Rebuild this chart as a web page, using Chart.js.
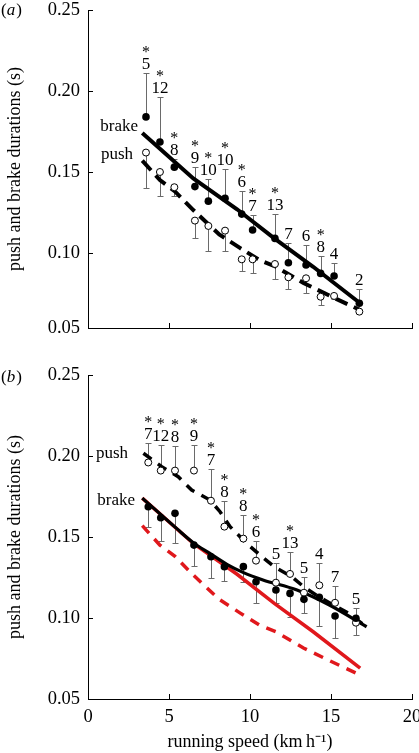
<!DOCTYPE html>
<html><head><meta charset="utf-8">
<script src="https://cdn.jsdelivr.net/npm/chart.js@4/dist/chart.umd.min.js"></script>
<style>
html,body{margin:0;padding:0;background:#fff;}
#wrap{position:relative;width:419px;height:753px;overflow:hidden;}
canvas{position:absolute;left:0;}
#ca{top:0;} #cb{top:360px;}
</style></head><body>
<div id="wrap"><canvas id="ca" width="419" height="345"></canvas><canvas id="cb" width="419" height="393"></canvas></div>
<script>
// ---------- data ----------
// panel (a) axis starts slightly above 0.05 (its bottom label reads 0.05)
const aYMin = 0.0537;
const aYTicks = [aYMin, 0.10, 0.15, 0.20, 0.25];
const bYTicks = [0.05, 0.10, 0.15, 0.20, 0.25];
const xTickValues = [0, 5, 10, 15, 20];

// panel (a)
const aSpeed    = [3.58,4.44,5.33,6.6,7.43,8.46,9.49,10.16,11.54,12.37,13.46,14.36,15.19,16.75];
const aBrake    = [0.184,0.1685,0.153,0.141,0.132,0.1338,0.124,0.1142,0.109,0.094,0.0926,0.0874,0.0858,0.069];
const aBrakeErr = [0.211,0.196,0.158,0.153,0.1457,0.152,0.138,0.1235,0.124,0.1062,0.105,0.098,0.094,0.0778];
const aPush     = [0.162,0.150,0.1406,0.120,0.1167,0.1138,0.0961,0.0961,0.0932,0.085,0.0844,0.073,0.0735,0.0638];
const aPushErr  = [0.140,0.135,0.135,0.109,0.101,0.101,0.089,0.0876,0.0838,0.078,0.075,0.068,0.0715,null];
const aN        = ['5','12','8','9','10','10','6','7','13','7','6','8','4','2'];
const aSig      = [1,1,1,1,1,1,1,1,1,0,0,1,0,0];

// fitted lines (also repeated in red in panel b)
const brakeFitX = [3.35,6.5,9.2,11.5,13.9,16.8];
const brakeFitY = [0.174,0.146,0.127,0.109,0.0915,0.069];
const pushFitX  = [3.35,4.44,5.37,6.5,8.1,9.4,10.6,11.6,13.3,15.15,16.8];
const pushFitY  = [0.157,0.145,0.138,0.1265,0.1115,0.103,0.0955,0.0915,0.0815,0.0725,0.0648];

// panel (b)
const bSpeed    = [3.72,4.49,5.37,6.54,7.59,8.42,9.59,10.37,11.6,12.47,13.33,14.28,15.25,16.54];
const bPush     = [0.196,0.191,0.191,0.191,0.1724,0.1564,0.149,0.1354,0.1218,0.1272,0.1156,0.1202,0.1094,0.0971];
const bPushErr  = [0.208,0.207,0.206,0.207,0.1918,0.1724,0.1636,0.1477,0.134,0.1406,0.1251,0.134,0.1198,0.106];
const bBrake    = [0.1687,0.1619,0.1646,0.145,0.1378,0.1317,0.1317,0.1224,0.1173,0.1152,0.1115,0.1128,0.1012,0.0998];
const bBrakeErr = [0.156,0.1477,0.146,0.132,0.125,0.123,0.1224,0.1095,0.109,0.1008,0.1033,0.0951,0.0875,0.0895];
const bN        = ['7','12','8','9','7','8','8','6','5','13','5','4','7','5'];
const bSig      = [1,1,1,1,1,1,1,1,0,1,0,0,0,0];

const bBrakeFitX = [3.35,5.5,6.5,7.5,8.6,9.6,10.8,12.9,14.9,17.2];
const bBrakeFitY = [0.174,0.155,0.1465,0.140,0.133,0.128,0.1235,0.1173,0.108,0.0946];
const bPushFitX  = [3.42,4.55,5.57,6.4,7.53,8.15,8.77,9.8,10.6,11.54,12.57,13.3,14.25,15.97,17.2];
const bPushFitY  = [0.2017,0.1934,0.1872,0.179,0.1728,0.1656,0.1564,0.146,0.139,0.1313,0.1256,0.1194,0.113,0.1035,0.0946];

// ---------- helpers ----------
const SERIF = "'Liberation Serif','Times New Roman',serif";
Chart.defaults.font.family = SERIF;
Chart.defaults.color = '#000';
const pts = (xs, ys) => xs.map((x, i) => ({x, y: ys[i]}));
const RED = '#e0181c';

const annot = {
  id: 'annot',
  beforeDatasetsDraw(chart, args, o) {
    const {ctx} = chart; const xs = chart.scales.x, ys = chart.scales.y;
    ctx.save(); ctx.strokeStyle = '#6a6a6a'; ctx.lineWidth = 1;
    (o.bars || []).forEach(b => {
      b.x.forEach((xv, i) => {
        const e = b.end[i]; if (e == null) return;
        const px = Math.round(xs.getPixelForValue(xv)) + 0.5;
        const p0 = ys.getPixelForValue(b.y[i]);
        const p1 = Math.round(ys.getPixelForValue(e)) + 0.5;
        ctx.beginPath(); ctx.moveTo(px, p0); ctx.lineTo(px, p1);
        ctx.moveTo(px - 3, p1); ctx.lineTo(px + 3, p1); ctx.stroke();
      });
    });
    ctx.restore();
  },
  afterDraw(chart, args, o) {
    const {ctx, chartArea} = chart; const xs = chart.scales.x, ys = chart.scales.y;
    ctx.save();
    // inward ticks
    ctx.strokeStyle = '#000'; ctx.lineWidth = 1;
    xs.ticks.forEach(t => {
      const px = Math.round(xs.getPixelForValue(t.value)) + 0.5;
      ctx.beginPath(); ctx.moveTo(px, chartArea.bottom); ctx.lineTo(px, chartArea.bottom - 5); ctx.stroke();
    });
    ys.ticks.forEach(t => {
      const py = Math.round(ys.getPixelForValue(t.value)) + 0.5;
      ctx.beginPath(); ctx.moveTo(chartArea.left, py); ctx.lineTo(chartArea.left + 5, py); ctx.stroke();
    });
    // sample sizes and significance stars
    const L = o.labels;
    if (L) {
      ctx.fillStyle = '#000'; ctx.textAlign = 'center'; ctx.textBaseline = 'alphabetic';
      L.x.forEach((xv, i) => {
        const px = xs.getPixelForValue(xv);
        const base = ys.getPixelForValue(L.end[i]) - 4;
        ctx.font = '17px ' + SERIF;
        ctx.fillText(L.n[i], px, base);
        if (L.sig[i]) { ctx.font = '16px ' + SERIF; ctx.fillText('*', px, base - 12); }
      });
    }
    // series names
    ctx.font = '17px ' + SERIF; ctx.textAlign = 'right'; ctx.textBaseline = 'middle';
    (o.texts || []).forEach(t => ctx.fillText(t.t, xs.getPixelForValue(t.x), ys.getPixelForValue(t.y)));
    // panel letter
    ctx.textAlign = 'left'; ctx.textBaseline = 'alphabetic';
    ctx.font = '17px ' + SERIF; ctx.fillText('(', 1, o.letterY);
    let w = ctx.measureText('(').width;
    ctx.font = 'italic 17px ' + SERIF; ctx.fillText(o.letter, 1 + w, o.letterY);
    w += ctx.measureText(o.letter).width;
    ctx.font = '17px ' + SERIF; ctx.fillText(')', 1 + w + 1, o.letterY);
    ctx.restore();
  }
};
Chart.register(annot);

function makeScales(xHeight, showX, yTicks) {
  return {
    x: {
      type: 'linear', min: 0, max: 20,
      afterBuildTicks: s => { s.ticks = xTickValues.map(v => ({value: v})); },
      afterFit: s => { s.height = xHeight; s.paddingLeft = 0; s.paddingRight = 0; },
      grid: {display: true, drawOnChartArea: false, drawTicks: false},
      border: {display: true, color: '#000', width: 1},
      ticks: {display: showX, padding: 9, font: {size: 18.5, lineHeight: 1}, maxRotation: 0},
      title: {display: showX, text: 'running speed (km\u2009h\u207B\u00B9)', font: {size: 18, lineHeight: 1.2}, padding: {top: 0, bottom: 0}}
    },
    y: {
      type: 'linear', min: yTicks[0], max: yTicks[yTicks.length - 1],
      afterBuildTicks: s => { s.ticks = yTicks.map(v => ({value: v})); },
      afterFit: s => { s.width = 88; s.paddingTop = 0; s.paddingBottom = 0; },
      grid: {display: true, drawOnChartArea: false, drawTicks: false},
      border: {display: true, color: '#000', width: 1},
      ticks: {padding: 8, font: {size: 18.5, lineHeight: 1}, callback: v => v.toFixed(2)},
      title: {display: true, text: 'push and brake durations (s)', font: {size: 18, lineHeight: 1.2}, padding: {top: 4, bottom: 0}}
    }
  };
}

const common = {
  responsive: false, animation: false, devicePixelRatio: 1,
  plugins: {legend: {display: false}, tooltip: {enabled: false}}
};

// panel (a)
new Chart(document.getElementById('ca'), {
  type: 'scatter',
  data: {datasets: [
    {type: 'scatter', data: pts(aSpeed, aBrake), pointRadius: 3.8, backgroundColor: '#000', borderColor: '#000', borderWidth: 0, order: 1},
    {type: 'scatter', data: pts(aSpeed, aPush), pointRadius: 3.5, backgroundColor: '#fff', borderColor: '#000', borderWidth: 1, order: 2},
    {type: 'line', data: pts(brakeFitX, brakeFitY), borderColor: '#000', borderWidth: 4, pointRadius: 0, fill: false, order: 3},
    {type: 'line', data: pts(pushFitX, pushFitY), borderColor: '#000', borderWidth: 4, borderDash: [13, 7], pointRadius: 0, fill: false, order: 4}
  ]},
  options: Object.assign({}, common, {
    layout: {padding: {top: 10, left: 0, right: 7, bottom: 0}},
    scales: makeScales(17, false, aYTicks),
    plugins: Object.assign({}, common.plugins, {annot: {
      bars: [{x: aSpeed, y: aBrake, end: aBrakeErr}, {x: aSpeed, y: aPush, end: aPushErr}],
      labels: {x: aSpeed, end: aBrakeErr, n: aN, sig: aSig},
      texts: [{t: 'brake', x: 3.09, y: 0.1778}, {t: 'push', x: 2.78, y: 0.1605}],
      letter: 'a', letterY: 15
    }})
  })
});

// panel (b)
new Chart(document.getElementById('cb'), {
  type: 'scatter',
  data: {datasets: [
    {type: 'scatter', data: pts(bSpeed, bBrake), pointRadius: 3.8, backgroundColor: '#000', borderColor: '#000', borderWidth: 0, order: 1},
    {type: 'scatter', data: pts(bSpeed, bPush), pointRadius: 3.5, backgroundColor: '#fff', borderColor: '#000', borderWidth: 1, order: 2},
    {type: 'line', data: pts(bBrakeFitX, bBrakeFitY), borderColor: '#000', borderWidth: 3.2, pointRadius: 0, fill: false, cubicInterpolationMode: 'monotone', order: 3},
    {type: 'line', data: pts(bPushFitX, bPushFitY), borderColor: '#000', borderWidth: 3.5, borderDash: [10, 8], pointRadius: 0, fill: false, order: 4},
    {type: 'line', data: pts(brakeFitX, brakeFitY), borderColor: RED, borderWidth: 3.5, pointRadius: 0, fill: false, order: 5},
    {type: 'line', data: pts(pushFitX, pushFitY), borderColor: RED, borderWidth: 3.5, borderDash: [10, 8], pointRadius: 0, fill: false, order: 6}
  ]},
  options: Object.assign({}, common, {
    layout: {padding: {top: 15, left: 0, right: 7, bottom: 0}},
    scales: makeScales(54, true, bYTicks),
    plugins: Object.assign({}, common.plugins, {annot: {
      bars: [{x: bSpeed, y: bPush, end: bPushErr}, {x: bSpeed, y: bBrake, end: bBrakeErr}],
      labels: {x: bSpeed, end: bPushErr, n: bN, sig: bSig},
      texts: [{t: 'push', x: 2.47, y: 0.2017}, {t: 'brake', x: 2.9, y: 0.1728}],
      letter: 'b', letterY: 22
    }})
  })
});
</script>
</body></html>
